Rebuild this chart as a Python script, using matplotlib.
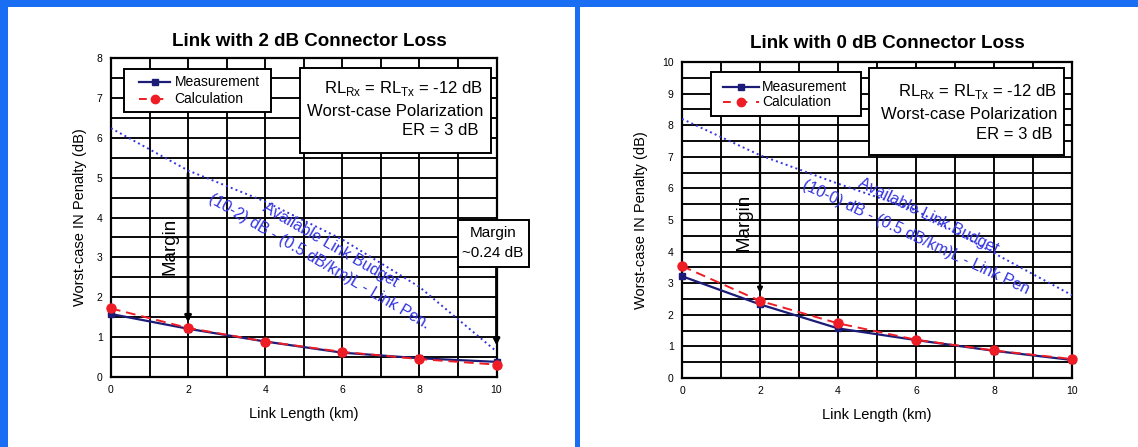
import numpy as np
import matplotlib
matplotlib.use('Agg')
import matplotlib.pyplot as plt
from matplotlib.patches import Rectangle
from matplotlib.lines import Line2D

plt.rcParams['font.family'] = ['Liberation Sans', 'DejaVu Sans']
plt.rcParams['mathtext.fontset'] = 'custom'
plt.rcParams['mathtext.rm'] = 'Liberation Sans'

# link length (km)
km = [0, 2, 4, 6, 8, 10]

# left: 2 dB connector loss
meas_2db = [1.58, 1.21, 0.89, 0.61, 0.47, 0.38]
calc_2db = [1.72, 1.23, 0.89, 0.63, 0.45, 0.31]
budget_2db = [6.24, 5.18, 4.4, 3.45, 2.26, 0.64]

# right: 0 dB connector loss
meas_0db = [3.22, 2.33, 1.57, 1.2, 0.86, 0.57]
calc_0db = [3.54, 2.44, 1.73, 1.21, 0.87, 0.6]
budget_0db = [8.2, 7.05, 6.15, 5.3, 3.95, 2.62]

titles = ['Link with 2 dB Connector Loss', 'Link with 0 dB Connector Loss']
ymax = [8, 10]
budget_text = ['(10-2) dB - (0.5 dB/km)L - Link Pen.', '(10-0) dB - (0.5 dB/km)L - Link Pen']
legend_labels = ['Measurement', 'Calculation']

NAVY = '#1c1c78'
RED = '#ee1c25'
BLUE = '#3434e2'

fig = plt.figure(figsize=(11.38, 4.47), dpi=100)
fig.patch.set_facecolor('#1a6ef4')
fig.patches.append(Rectangle((0.007, 0), 0.498, 0.984, transform=fig.transFigure,
                             facecolor='white', edgecolor='none', zorder=-5))
fig.patches.append(Rectangle((0.5097, 0), 0.4903, 0.984, transform=fig.transFigure,
                             facecolor='white', edgecolor='none', zorder=-5))

ax1 = fig.add_axes([0.0975, 0.1566, 0.3388, 0.7136])
ax2 = fig.add_axes([0.5993, 0.1544, 0.3427, 0.7069])


def setup(ax, top, title, title_x, title_y, ylab_x):
    ax.set_xlim(0, 10)
    ax.set_ylim(0, top)
    for x in range(1, 10):
        ax.axvline(x, color='k', lw=1.35, zorder=1)
    for y in np.arange(0.5, top, 0.5):
        ax.axhline(y, color='k', lw=1.35, zorder=1)
    for s in ax.spines.values():
        s.set_linewidth(1.6)
    ax.set_xticks(range(0, 11, 2))
    ax.set_yticks(range(0, top + 1))
    ax.tick_params(length=0, labelsize=7.5, pad=6)
    ax.set_xlabel('Link Length (km)', fontsize=10.5)
    ax.set_ylabel('Worst-case IN Penalty (dB)', fontsize=10.5)
    ax.xaxis.set_label_coords(0.5, -0.095)
    ax.yaxis.set_label_coords(ylab_x, 0.5)
    ax.text(title_x, title_y, title, transform=ax.transAxes, ha='center', va='center',
            fontsize=13.5, fontweight='bold')


def info_box(ax, x0, y0, w, h, tx, ys):
    ax.add_patch(Rectangle((x0, y0), w, h, transform=ax.transAxes, facecolor='white',
                           edgecolor='k', lw=1.4, zorder=5))
    ax.text(tx, ys[0], r'RL$_{\mathrm{Rx}}$ = RL$_{\mathrm{Tx}}$ = -12 dB', transform=ax.transAxes,
            ha='right', va='center', fontsize=12, zorder=6)
    ax.text(tx, ys[1], 'Worst-case Polarization', transform=ax.transAxes,
            ha='right', va='center', fontsize=12, zorder=6)
    ax.text(tx - 0.012, ys[2], 'ER = 3 dB', transform=ax.transAxes,
            ha='right', va='center', fontsize=12, zorder=6)


def legend_box(ax, box, rows, hx0, hx1, tx):
    ax.add_patch(Rectangle(box[:2], box[2], box[3], transform=ax.transAxes, facecolor='white',
                           edgecolor='k', lw=1.4, zorder=5))
    hm = (hx0 + hx1) / 2
    ax.add_line(Line2D([hx0, hx1], [rows[0]] * 2, transform=ax.transAxes, color=NAVY,
                       lw=1.6, zorder=6))
    ax.add_line(Line2D([hm], [rows[0]], transform=ax.transAxes, color=NAVY, marker='s',
                       ms=5, zorder=6))
    ax.add_line(Line2D([hx0, hx1], [rows[1]] * 2, transform=ax.transAxes, color=RED,
                       lw=1.4, dashes=(4, 4.5), zorder=6))
    ax.add_line(Line2D([hm], [rows[1]], transform=ax.transAxes, color=RED, marker='o',
                       ms=6, zorder=6))
    for lab, yy in zip(legend_labels, rows):
        ax.text(tx, yy, lab, transform=ax.transAxes, ha='left', va='center',
                fontsize=10, zorder=6)


def curves(ax, meas, calc, budget):
    ax.plot(km, budget, color=BLUE, ls=':', lw=1.4, zorder=3)
    ax.plot(km, meas, color=NAVY, lw=1.6, marker='s', ms=5, zorder=4, clip_on=False)
    ax.plot(km, calc, color=RED, ls='--', lw=1.4, marker='o', ms=6.5, zorder=4,
            dashes=(5, 3), clip_on=False)


# left panel
setup(ax1, ymax[0], titles[0], 0.514, 1.053, -0.062)
curves(ax1, meas_2db, calc_2db, budget_2db)
legend_box(ax1, (0.0337, 0.831, 0.381, 0.135), (0.925, 0.871), 0.074, 0.154, 0.165)
info_box(ax1, 0.49, 0.702, 0.496, 0.267, 0.966, [0.906, 0.831, 0.774])
ax1.annotate('', xy=(2, 1.3), xytext=(2, budget_2db[1]),
             arrowprops=dict(arrowstyle='-|>', color='k', lw=2, mutation_scale=9), zorder=5)
ax1.text(1.53, 3.28, 'Margin', rotation=90, ha='center', va='center', fontsize=13.5, zorder=5)
ax1.text(5.69, 3.32, 'Available Link Budget', rotation=-30, ha='center', va='center',
         rotation_mode='anchor', fontsize=11.5, color=BLUE, zorder=5)
ax1.text(5.4, 2.9, budget_text[0], rotation=-30.3, ha='center', va='center',
         rotation_mode='anchor', fontsize=11.5, color=BLUE, zorder=5)
ax1.add_patch(Rectangle((0.90, 0.345), 0.184, 0.147, transform=ax1.transAxes, facecolor='white',
                        edgecolor='k', lw=1.4, zorder=7, clip_on=False))
ax1.text(0.99, 0.451, 'Margin', transform=ax1.transAxes, ha='center', va='center',
         fontsize=11, zorder=8)
ax1.text(0.99, 0.389, '~0.24 dB', transform=ax1.transAxes, ha='center', va='center',
         fontsize=11, zorder=8)
ax1.annotate('', xy=(10, 0.72), xytext=(10, 2.79),
             arrowprops=dict(arrowstyle='-|>', color='k', lw=2, mutation_scale=9),
             annotation_clip=False, zorder=5)

# right panel
setup(ax2, ymax[1], titles[1], 0.526, 1.06, -0.088)
curves(ax2, meas_0db, calc_0db, budget_0db)
legend_box(ax2, (0.0744, 0.829, 0.385, 0.139), (0.922, 0.874), 0.105, 0.197, 0.205)
info_box(ax2, 0.479, 0.706, 0.5, 0.275, 0.962, [0.906, 0.835, 0.769])
ax2.annotate('', xy=(2, 2.6), xytext=(2, budget_0db[1]),
             arrowprops=dict(arrowstyle='-|>', color='k', lw=1.6, mutation_scale=7), zorder=5)
ax2.text(1.59, 4.94, 'Margin', rotation=90, ha='center', va='center', fontsize=13.5, zorder=5)
ax2.text(6.31, 5.12, 'Available Link Budget', rotation=-26, ha='center', va='center',
         rotation_mode='anchor', fontsize=11.5, color=BLUE, zorder=5)
ax2.text(6.0, 4.46, budget_text[1], rotation=-25.2, ha='center', va='center',
         rotation_mode='anchor', fontsize=11.5, color=BLUE, zorder=5)

fig.savefig('out.png', dpi=100, facecolor=fig.get_facecolor())
